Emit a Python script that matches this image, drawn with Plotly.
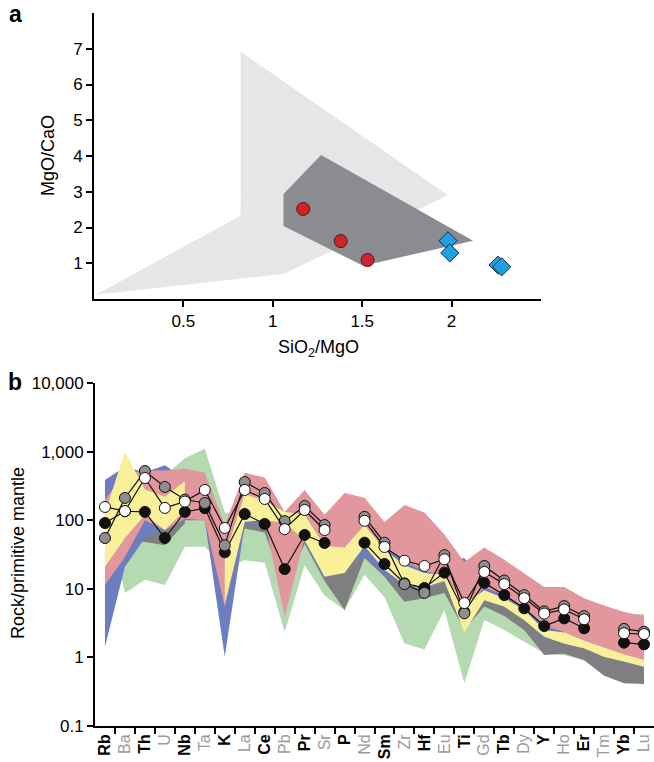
import plotly.graph_objects as go

# ---------------- Panel a data ----------------
light_x = [0.01, 0.82, 0.82, 1.98, 1.06]
light_y = [0.12, 2.33, 6.92, 2.90, 0.70]
dark_x = [1.06, 1.27, 2.12, 1.505, 1.06]
dark_y = [2.94, 4.03, 1.63, 0.93, 2.04]
red_x = [1.17, 1.38, 1.53]
red_y = [2.52, 1.62, 1.09]
blue_x = [1.98, 1.99, 2.26, 2.28]
blue_y = [1.63, 1.29, 0.95, 0.90]
a_xticks = [0.5, 1, 1.5, 2]
a_yticks = [1, 2, 3, 4, 5, 6, 7]

# ---------------- Panel b data ----------------
elements = ["Rb", "Ba", "Th", "U", "Nb", "Ta", "K", "La", "Ce", "Pb", "Pr", "Sr", "P", "Nd",
            "Sm", "Zr", "Hf", "Eu", "Ti", "Gd", "Tb", "Dy", "Y", "Ho", "Er", "Tm", "Yb", "Lu"]

gray_pts = [55, 211, 521, 305, 200, 178, 43, 360, 249, 97, 161, 85, None, 112, 47, 11.7, 8.7,
            31, 4.4, 21.5, 13.2, 8.1, 4.7, 5.6, 4.0, None, 2.6, 2.37]
white_pts = [156, 136, 412, 151, 187, 276, 77, 276, 204, 74, 141, 72, None, 98, 40.7, 25.7, 21.5,
             26.9, 6.2, 17.6, 11.7, 7.3, 4.36, 5.0, 3.6, None, 2.25, 2.19]
black_pts = [91, 135, 132, 55, 132, 150, 34, 123, 88, 19.4, 61, 46.6, None, 47, 23, 12, 10.3,
             17.2, 4.6, 12.2, 8.1, 5.2, 2.87, 3.7, 2.66, None, 1.64, 1.55]

green_hi = [200, 300, 400, 450, 800, 1100, 130, 110, 100, 60, 45, 40, 50, 60, 30, 25, 20, 15, 6,
            7, 6, 5, 4.5, 4.5, 4.3, 4.2, 4.2, 4.3]
green_lo = [150, 8.7, 13.5, 11.4, 41, 41, 20, 26, 24, 2.35, 22, 8, 4.9, 16, 7.5, 1.6, 1.3, 4.9,
            0.42, 3.5, 2.5, 1.7, 1.15, 1.08, 0.9, 0.55, 0.45, 0.42]

dgray_hi = [None, 90, 90, 110, 120, None, 30, 100, 90, 30, 60, 30, 21, 40, 25, 11, 10, 12.5, 5,
            7, 5.5, 3.5, 2.0, 1.6, 1.36, 1.02, 0.87, 0.73]
dgray_lo = [None, 50, 48, 43, 90, None, 8, 76, 66, 10, 45, 13, 4.9, 28, 15, 6.5, 7.3, 8.7, 2.5,
            5.5, 4.0, 2.5, 1.08, 1.13, 0.92, 0.54, 0.42, 0.41]

blue_hi = [385, 600, 500, 630, 400, 200, 60, 300, 200, 80, 120, 60, 50, 80, 40, 25, 20, 25, 28,
           12, 20, 12, 7, 4, None, None, None, None]
blue_lo = [1.43, 21, 55, 75, 100, 100, 1.02, 88, 86, 15, 48, 14, 22, 29, 16, 11, 10, 12.5, 3,
           9, 6.5, 4.3, 1.8, 2.0, None, None, None, None]

pink_hi = [200, 480, 530, 530, 560, 490, 85, 490, 420, 133, 275, 120, 250, 212, 94, 166, 130, 62,
           24.5, 40, 26.5, 16.8, 10.6, 10.6, 7.3, 5.7, 4.6, 4.0]
pink_lo = [11.4, 29, 100, 72, 105, 100, 5.5, 95, 100, 3.9, 55, 20, 40, 60, 40, 25, 18, 16, 5, 10.5,
           8.1, 5.4, 2.9, 2.35, 1.75, 1.4, 1.1, 0.92]

yellow_hi = [127, 1000, 280, 220, 370, None, 30, 240, 190, 133, 120, 42, 40, 85, 37, 22, 17, 16,
             6, 9.5, 7.3, 4.9, 2.5, 2.3, 1.75, 1.4, 1.1, 0.92]
yellow_lo = [21, 55, 120, 72, 140, None, 6, 95, 100, 92, 51, 15, 17, 42, 19, 11.5, 10.5, 13,
             2.3, 6.8, 5.5, 3.5, 2.0, 1.6, 1.36, 1.02, 0.87, 0.73]

b_ytickvals = [0.1, 1, 10, 100, 1000, 10000]
b_yticktext = ["0.1", "1", "10", "100", "1,000", "10,000"]

FONT = "Liberation Sans, Arial, Helvetica, sans-serif"

fig = go.Figure()

# ---- panel a ----
fig.add_trace(go.Scatter(x=light_x + light_x[:1], y=light_y + light_y[:1], mode="lines",
                         fill="toself", fillcolor="#e6e6e8", line=dict(width=0),
                         xaxis="x", yaxis="y", hoverinfo="skip"))
fig.add_trace(go.Scatter(x=dark_x + dark_x[:1], y=dark_y + dark_y[:1], mode="lines",
                         fill="toself", fillcolor="#8b8c8f", line=dict(width=0),
                         xaxis="x", yaxis="y", hoverinfo="skip"))
fig.add_trace(go.Scatter(x=red_x, y=red_y, mode="markers", xaxis="x", yaxis="y",
                         marker=dict(symbol="circle", size=13, color="#d3232a",
                                     line=dict(color="#4a1a1a", width=1))))
fig.add_trace(go.Scatter(x=blue_x, y=blue_y, mode="markers", xaxis="x", yaxis="y",
                         marker=dict(symbol="diamond", size=14, color="#1fa0e2",
                                     line=dict(color="#1a2e44", width=1))))

# ---- panel b bands ----
def add_band(hi, lo, color):
    segs = []
    cur = []
    for i, (h, l) in enumerate(zip(hi, lo)):
        if h is None or l is None:
            if cur:
                segs.append(cur)
            cur = []
        else:
            cur.append(i)
    if cur:
        segs.append(cur)
    for seg in segs:
        xs = seg + seg[::-1] + seg[:1]
        ys = [hi[i] for i in seg] + [lo[i] for i in seg[::-1]] + [hi[seg[0]]]
        fig.add_trace(go.Scatter(x=xs, y=ys, mode="lines", fill="toself", fillcolor=color,
                                 line=dict(width=0), xaxis="x2", yaxis="y2", hoverinfo="skip"))

add_band(green_hi, green_lo, "#b5d9b1")
add_band(dgray_hi, dgray_lo, "#7f7f82")
add_band(blue_hi, blue_lo, "#6d7ec0")
add_band(pink_hi, pink_lo, "#e1979c")
add_band(yellow_hi, yellow_lo, "#f9f199")

idx = list(range(len(elements)))
for vals, col in [(black_pts, "#111111"), (gray_pts, "#8e8e8e"), (white_pts, "#ffffff")]:
    fig.add_trace(go.Scatter(x=idx, y=vals, mode="lines+markers", xaxis="x2", yaxis="y2",
                             connectgaps=False,
                             line=dict(color="#111111", width=1.2),
                             marker=dict(size=11, color=col, line=dict(color="#111111", width=1))))

ticktext = []
for i, e in enumerate(elements):
    if i % 2 == 0:
        ticktext.append("<b>%s</b>" % e)
    else:
        ticktext.append('<span style="color:#9a9a9a">%s</span>' % e)

axis_common = dict(showline=True, linecolor="black", linewidth=1.8, showgrid=False,
                   zeroline=False, ticks="outside", tickcolor="black", tickwidth=1.5,
                   ticklen=6, automargin=False,
                   tickfont=dict(family=FONT, size=17, color="black"))

fig.update_layout(
    width=654, height=762, margin=dict(l=0, r=0, t=0, b=0, pad=0, autoexpand=False),
    paper_bgcolor="white", plot_bgcolor="white", showlegend=False,
    font=dict(family=FONT, size=17, color="black"),
    xaxis=dict(domain=[94 / 654, 541 / 654], range=[0, 2.5], anchor="y",
               tickvals=a_xticks, ticktext=["0.5", "1", "1.5", "2"], **axis_common),
    yaxis=dict(domain=[(762 - 299) / 762, (762 - 13) / 762], range=[0, 8], anchor="x",
               tickvals=a_yticks, **axis_common),
    xaxis2=dict(domain=[95 / 654, 1.0], range=[-0.5, 27.5], anchor="y2", automargin=False,
                showline=True, linecolor="black", linewidth=1.8, showgrid=False, zeroline=False,
                tickmode="array", tickvals=idx, ticktext=ticktext, ticks="", tickangle=-90,
                tickfont=dict(family=FONT, size=16, color="black"),
                minor=dict(tickvals=[i + 0.5 for i in idx[:-1]], ticks="outside", ticklen=6,
                           tickwidth=1.5, tickcolor="black")),
    yaxis2=dict(domain=[36 / 762, 379 / 762], type="log", range=[-1, 4], anchor="x2",
                tickvals=b_ytickvals, ticktext=b_yticktext, **axis_common),
)

ann = [
    dict(text="<b>a</b>", x=15 / 654, y=(762 - 14) / 762, font=dict(size=23)),
    dict(text="<b>b</b>", x=15 / 654, y=(762 - 382) / 762, font=dict(size=23)),
    dict(text="SiO<sub>2</sub>/MgO", x=318 / 654, y=(762 - 348) / 762, font=dict(size=18)),
    dict(text="MgO/CaO", x=48 / 654, y=(762 - 156) / 762, textangle=-90, font=dict(size=18)),
    dict(text="Rock/primitive mantle", x=18 / 654, y=(762 - 553) / 762, textangle=-90,
         font=dict(size=18)),
]
for a in ann:
    a.update(xref="paper", yref="paper", showarrow=False, xanchor="center", yanchor="middle")
    a["font"].update(family=FONT, color="black")
fig.update_layout(annotations=ann)

fig.write_html("out.html", config={"displayModeBar": False},
               post_script="document.body.style.margin='0';document.body.style.padding='0';"
                           "document.documentElement.style.overflow='hidden';")
